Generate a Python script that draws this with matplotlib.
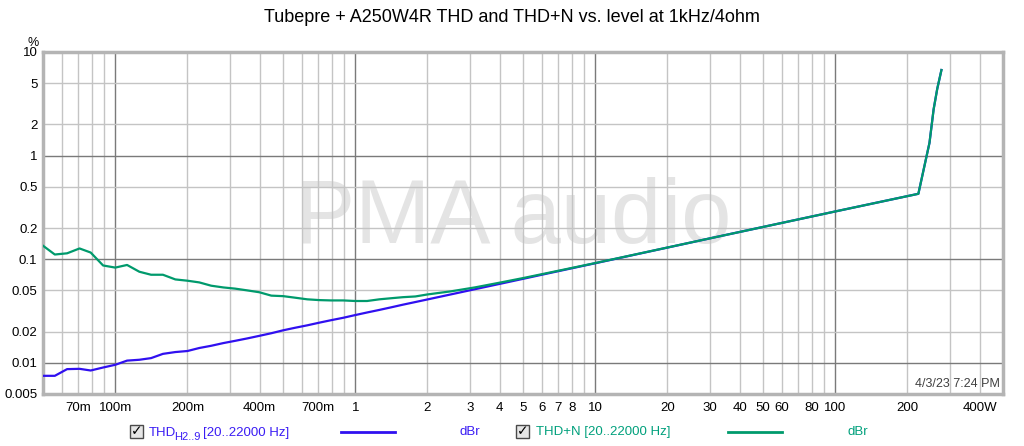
import matplotlib

matplotlib.use("Agg")
import matplotlib.pyplot as plt
from matplotlib.patches import Rectangle
import numpy as np

plt.rcParams["font.family"] = ["Liberation Sans", "DejaVu Sans"]

# level in W
power_w = [
    0.050, 0.056, 0.063, 0.071, 0.079, 0.089, 0.100, 0.112, 0.126, 0.141,
    0.158, 0.178, 0.200, 0.224, 0.251, 0.282, 0.316, 0.355, 0.398, 0.447,
    0.501, 0.562, 0.631, 0.708, 0.794, 0.891, 1.00, 1.12, 1.26, 1.41,
    1.58, 1.78, 2.00, 2.51, 3.16, 4.00, 5.01, 6.31, 10.0, 31.6,
    100.0, 222.0, 247.0, 257.0, 266.0, 277.0,
]
# THD H2..9 in %
thd = [
    0.00749, 0.00749, 0.00869, 0.00875, 0.00843, 0.00901, 0.00957, 0.0105, 0.0107, 0.0111,
    0.0122, 0.0127, 0.0130, 0.0139, 0.0146, 0.0155, 0.0163, 0.0172, 0.0182, 0.0193,
    0.0206, 0.0218, 0.0230, 0.0244, 0.0258, 0.0272, 0.0289, 0.0306, 0.0324, 0.0343,
    0.0364, 0.0386, 0.0409, 0.0458, 0.0514, 0.0578, 0.0647, 0.0727, 0.0914, 0.163,
    0.289, 0.428, 1.33, 2.80, 4.40, 6.70,
]
# THD+N in %
thd_n = [
    0.135, 0.111, 0.114, 0.127, 0.116, 0.087, 0.083, 0.088, 0.0757, 0.0708,
    0.0708, 0.0638, 0.0620, 0.0597, 0.0555, 0.0534, 0.0520, 0.0500, 0.0480, 0.0445,
    0.0440, 0.0425, 0.0410, 0.0403, 0.0400, 0.0400, 0.0395, 0.0395, 0.0410, 0.0420,
    0.0430, 0.0437, 0.0457, 0.0490, 0.0535, 0.0594, 0.0658, 0.0735, 0.0918, 0.163,
    0.289, 0.428, 1.33, 2.80, 4.40, 6.70,
]

x_tick_values = [0.07, 0.1, 0.2, 0.4, 0.7, 1, 2, 3, 4, 5, 6, 7, 8, 10,
                 20, 30, 40, 50, 60, 80, 100, 200, 400]
x_tick_labels = ["70m", "100m", "200m", "400m", "700m", "1", "2", "3", "4", "5",
                 "6", "7", "8", "10", "20", "30", "40", "50", "60", "80", "100",
                 "200", "400W"]
y_tick_values = [0.005, 0.01, 0.02, 0.05, 0.1, 0.2, 0.5, 1, 2, 5, 10]
y_tick_labels = ["0.005", "0.01", "0.02", "0.05", "0.1", "0.2", "0.5", "1", "2", "5", "10"]

title = "Tubepre + A250W4R THD and THD+N vs. level at 1kHz/4ohm"
blue = "#3010f0"
green = "#009a6c"
blue_text = "#3a1cf4"
green_text = "#00a07c"

W, H = 1024, 446
fig = plt.figure(figsize=(W / 100, H / 100), dpi=100)
ax = fig.add_axes([43 / W, 1 - 394 / H, 960 / W, 342 / H])
ax.set_xscale("log")
ax.set_yscale("log")
ax.set_xlim(0.05, 500)
ax.set_ylim(0.005, 10)

# grid: every 1..9 multiple on x, 1-2-5 on y, darker decades
x_grid = [m * 10.0 ** e for e in range(-2, 3) for m in range(1, 10)]
for v in x_grid:
    if 0.05 < v < 500:
        decade = abs(np.log10(v) - round(np.log10(v))) < 1e-9
        ax.axvline(v, color="#7a7a7a" if decade else "#c4c4c4", lw=1, zorder=0.6)
for v in y_tick_values:
    if 0.005 < v < 10:
        decade = abs(np.log10(v) - round(np.log10(v))) < 1e-9
        ax.axhline(v, color="#7a7a7a" if decade else "#c4c4c4", lw=1, zorder=0.6)

ax.set_xticks(x_tick_values, labels=x_tick_labels)
ax.set_yticks(y_tick_values, labels=y_tick_labels)
ax.minorticks_off()
ax.tick_params(length=0, labelsize=9.5, colors="#000000", pad=6)
ax.tick_params(axis="y", pad=4)

for side in ["left", "top", "right", "bottom"]:
    ax.spines[side].set_color("#b4b4b4")
    ax.spines[side].set_linewidth(2.5)

ax.text(0.49, 0.51, "PMA audio", transform=ax.transAxes, ha="center", va="center",
        fontsize=65, color="#e4e4e4", zorder=0.1)

ax.plot(power_w, thd, color=blue, lw=1.6, zorder=3)
ax.plot(power_w, thd_n, color=green, lw=1.6, zorder=4)

ax.text(0.997, 0.03, "4/3/23 7:24 PM", transform=ax.transAxes, ha="right",
        va="center", fontsize=9, color="#404040", zorder=5)


def px(x, y):
    return x / W, 1 - y / H


fig.text(*px(512, 18), title, ha="center", va="center", fontsize=13)
fig.text(*px(33, 43), "%", ha="center", va="center", fontsize=9)


def checkbox(x, y):
    fig.patches.append(Rectangle(px(x, y + 13), 13 / W, 13 / H, transform=fig.transFigure,
                                 facecolor="#e6e6e6", edgecolor="#4a4a4a", lw=1))
    fig.text(*px(x + 6.8, y + 6.5), "\u2713", ha="center", va="center", fontsize=10,
             fontweight="bold", color="#000000", family="DejaVu Sans")


checkbox(130, 425)
fig.text(*px(149, 436), "THD", ha="left", va="baseline", fontsize=9.5, color=blue_text)
fig.text(*px(174, 440), "H2..9", ha="left", va="baseline", fontsize=8, color=blue_text)
fig.text(*px(203, 436), "[20..22000 Hz]", ha="left", va="baseline", fontsize=9.5,
         color=blue_text)
fig.lines.append(plt.Line2D([341 / W, 395 / W], [1 - 432 / H] * 2, transform=fig.transFigure,
                            color=blue, lw=2))
fig.text(*px(460, 432), "dBr", ha="left", va="center", fontsize=9.5, color=blue_text)

checkbox(516, 425)
fig.text(*px(536, 432), "THD+N [20..22000 Hz]", ha="left", va="center", fontsize=9.5,
         color=green_text)
fig.lines.append(plt.Line2D([728 / W, 782 / W], [1 - 432 / H] * 2, transform=fig.transFigure,
                            color=green, lw=2))
fig.text(*px(847, 432), "dBr", ha="left", va="center", fontsize=9.5, color=green_text)

fig.savefig("out.png", dpi=100)
